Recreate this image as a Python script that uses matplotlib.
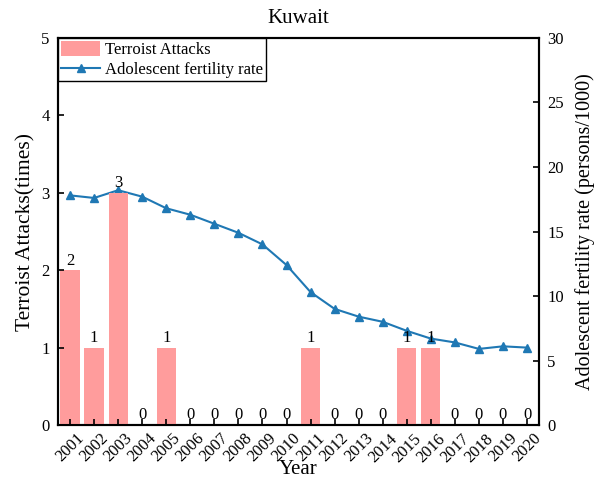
import numpy as np
import matplotlib.pyplot as plt

plt.rcParams['font.family'] = ['Liberation Serif', 'DejaVu Serif']

years = list(range(2001, 2021))
attacks = [2, 1, 3, 0, 1, 0, 0, 0, 0, 0, 1, 0, 0, 0, 1, 1, 0, 0, 0, 0]
fertility = [17.8, 17.6, 18.2, 17.7, 16.8, 16.3, 15.6, 14.9, 14.0, 12.4,
             10.3, 9.0, 8.4, 8.0, 7.3, 6.7, 6.4, 5.9, 6.1, 6.0]

x = np.arange(len(years))

fig = plt.figure(figsize=(5.95, 4.79), dpi=100)
ax = fig.add_axes([0.0975, 0.1127, 0.8085, 0.808])
ax2 = ax.twinx()

bars = ax.bar(x, attacks, width=0.8, color='#ff9c9c', zorder=1)
for xi, v in zip(x, attacks):
    ax.text(xi, v + 0.02, str(v), ha='center', va='bottom', fontsize=12)

line, = ax2.plot(x, fertility, color='#1f78b4', marker='^', markersize=6,
                 linewidth=1.5)

ax.set_xlim(-0.5, len(years) - 0.5)
ax.set_ylim(0, 5)
ax2.set_ylim(0, 30)
ax.set_yticks([0, 1, 2, 3, 4, 5])
ax2.set_yticks([0, 5, 10, 15, 20, 25, 30])
ax.set_xticks(x)
ax.set_xticklabels(years, rotation=45, ha='center', fontsize=11.5)

for a in (ax, ax2):
    a.tick_params(direction='in', labelsize=12, width=1.2, length=4, pad=6)
    for s in a.spines.values():
        s.set_linewidth(1.5)
ax.tick_params(axis='x', pad=4)

ax.set_xlabel('Year', fontsize=15, labelpad=-4)
ax.set_ylabel('Terroist Attacks(times)', fontsize=15.5, labelpad=4)
ax2.set_ylabel('Adolescent fertility rate (persons/1000)', fontsize=14.5, labelpad=8)
ax.set_title('Kuwait', fontsize=15, pad=11)

leg = ax.legend([bars, line], ['Terroist Attacks', 'Adolescent fertility rate'],
                loc='upper left', fontsize=12, fancybox=False, edgecolor='black',
                borderaxespad=0, framealpha=1, handletextpad=0.3,
                labelspacing=0.15, borderpad=0.2, handlelength=2.3,
                handleheight=1.0)
leg.get_frame().set_linewidth(1.0)
ax.set_zorder(ax2.get_zorder() + 1)
ax.patch.set_visible(False)

fig.savefig('out.png', dpi=100)
